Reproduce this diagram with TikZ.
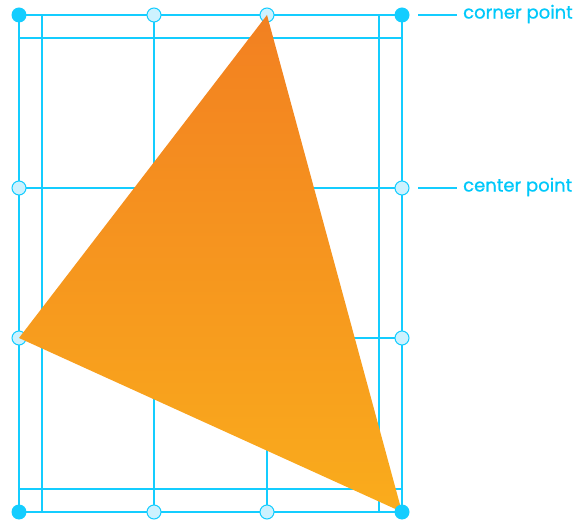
\documentclass[tikz,border=0pt]{standalone}
\usepackage{fontspec}
\setmainfont{Poppins}
\newfontfamily\lblfont[FakeBold=0.8]{Poppins}
\definecolor{gridc}{RGB}{20,205,255}
\definecolor{lightc}{RGB}{205,242,255}
\definecolor{textc}{RGB}{0,200,250}
\definecolor{orangetop}{RGB}{242,128,33}
\definecolor{orangebot}{RGB}{250,172,28}
\begin{document}
\begin{tikzpicture}[x=1pt,y=-1pt,
  gridline/.style={draw=gridc,line width=1.4pt},
  handle/.style={circle,draw=gridc,fill=lightc,line width=1pt,minimum size=14pt,inner sep=0pt},
  cornerh/.style={circle,fill=gridc,minimum size=15pt,inner sep=0pt},
  leader/.style={draw=gridc,line width=1.2pt},
  lbl/.style={text=textc,font=\lblfont\fontsize{18}{20}\selectfont,anchor=west,inner sep=0pt}]
\useasboundingbox (0,0) rectangle (576,521);
% grid lines
\draw[gridline] (19,15) rectangle (402,512);
\draw[gridline] (42,15) -- (42,512);
\draw[gridline] (379,15) -- (379,512);
\draw[gridline] (154,15) -- (154,512);
\draw[gridline] (267,15) -- (267,512);
\draw[gridline] (19,38) -- (402,38);
\draw[gridline] (19,489) -- (402,489);
\draw[gridline] (19,188) -- (402,188);
\draw[gridline] (19,338) -- (402,338);
% light handles
\node[handle] (t1) at (154,15) {};
\node[handle] (t2) at (267,15) {};
\node[handle] (l1) at (19,188) {};
\node[handle] (r1) at (402,188) {};
\node[handle] (l2) at (19,338) {};
\node[handle] (r2) at (402,338) {};
\node[handle] (b1) at (154,512) {};
\node[handle] (b2) at (267,512) {};
% triangle
\coordinate (A) at (267,15);
\coordinate (B) at (19,338);
\coordinate (C) at (402,512);
\shade[top color=orangetop,bottom color=orangebot] (A) -- (B) -- (C) -- cycle;
% corner handles
\node[cornerh] (c1) at (19,15) {};
\node[cornerh] (c2) at (402,15) {};
\node[cornerh] (c3) at (19,512) {};
\node[cornerh] (c4) at (402,512) {};
% labels
\coordinate (k1) at (418,15);
\coordinate (e1) at (457,15);
\coordinate (k2) at (418,188);
\coordinate (e2) at (457,188);
\node[lbl] (cp) at (463,14) {corner point};
\node[lbl] (mp) at (463,187) {center point};
\draw[leader] (k1) -- (e1);
\draw[leader] (k2) -- (e2);
\end{tikzpicture}
\end{document}
